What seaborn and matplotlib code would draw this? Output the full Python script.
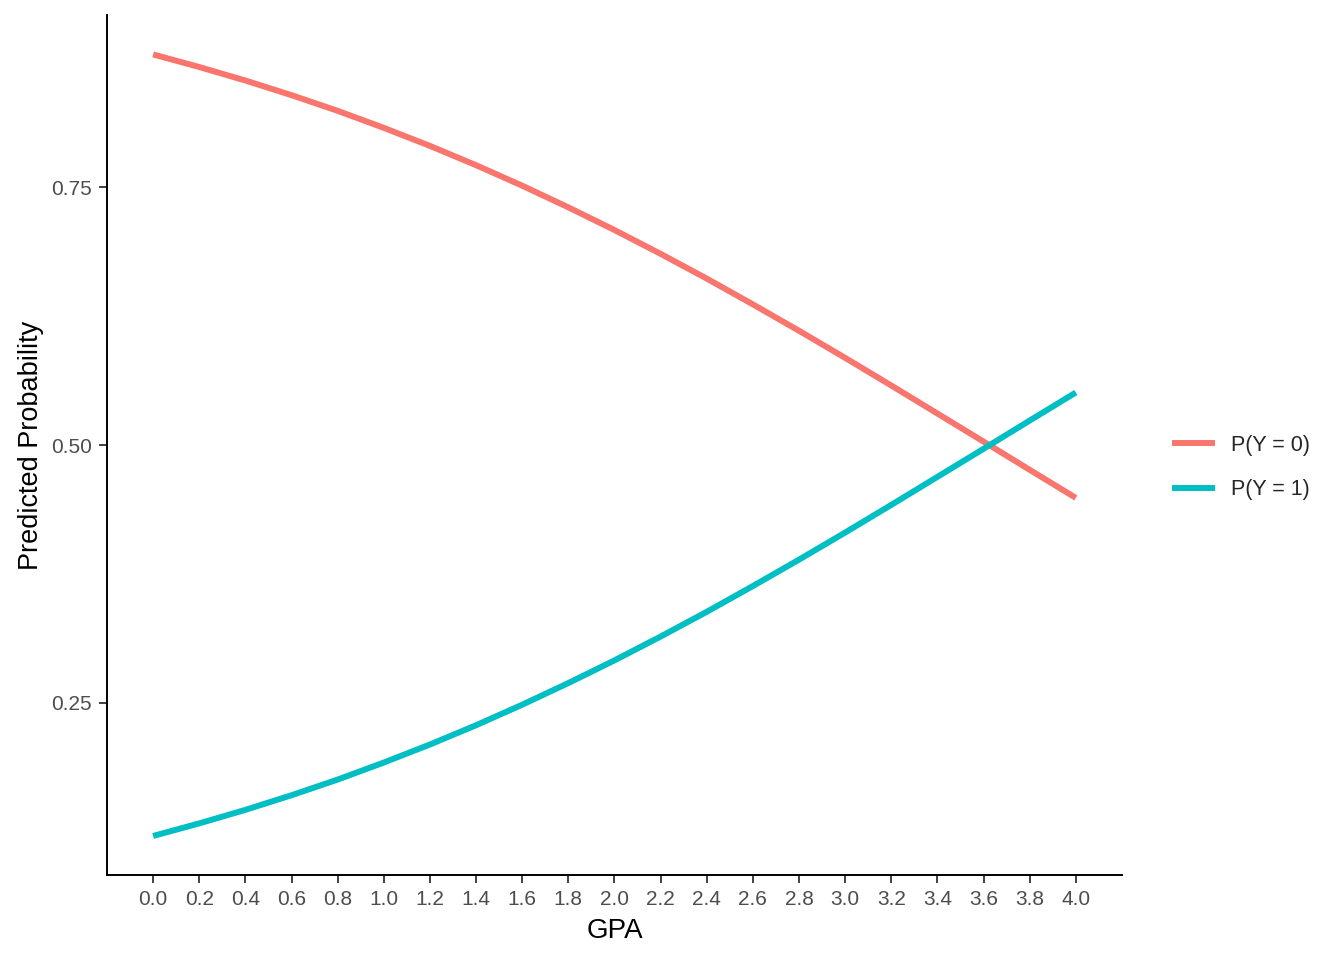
import matplotlib
matplotlib.use("Agg")
import matplotlib.pyplot as plt
import numpy as np
import pandas as pd
import seaborn as sns

# values
gpa = [0.0, 0.2, 0.4, 0.6, 0.8, 1.0, 1.2, 1.4, 1.6, 1.8, 2.0,
       2.2, 2.4, 2.6, 2.8, 3.0, 3.2, 3.4, 3.6, 3.8, 4.0]
p_y1 = [0.1210, 0.1332, 0.1463, 0.1605, 0.1757, 0.1922, 0.2097, 0.2284,
        0.2483, 0.2693, 0.2913, 0.3144, 0.3384, 0.3634, 0.3890, 0.4153,
        0.4421, 0.4693, 0.4965, 0.5239, 0.5511]
p_y0 = [0.8790, 0.8668, 0.8537, 0.8395, 0.8243, 0.8078, 0.7903, 0.7716,
        0.7517, 0.7307, 0.7087, 0.6856, 0.6616, 0.6366, 0.6110, 0.5847,
        0.5579, 0.5307, 0.5035, 0.4761, 0.4489]
labels = ["P(Y = 0)", "P(Y = 1)"]
colors = ["#F8766D", "#00BFC4"]

df = pd.concat([
    pd.DataFrame({"GPA": gpa, "prob": p_y0, "series": labels[0]}),
    pd.DataFrame({"GPA": gpa, "prob": p_y1, "series": labels[1]}),
])

sns.set_style("white")
plt.rcParams["font.family"] = ["Liberation Sans", "DejaVu Sans"]
plt.rcParams["lines.solid_capstyle"] = "butt"

fig = plt.figure(figsize=(13.44, 9.6), dpi=100)
ax = fig.add_axes([0.0796, 0.0885, 0.7552, 0.8955])

sns.lineplot(data=df, x="GPA", y="prob", hue="series", palette=colors,
             linewidth=4.3, ax=ax, legend=True)
for ln in ax.lines:
    ln.set_solid_capstyle("butt")

ax.set_xlim(-0.2, 4.2)
ax.set_ylim(0.0831, 0.9169)
ax.set_xticks(gpa)
ax.set_xticklabels([f"{v:.1f}" for v in gpa])
ax.set_yticks([0.25, 0.50, 0.75])
ax.set_yticklabels(["0.25", "0.50", "0.75"])
ax.tick_params(axis="both", colors="#333333", labelcolor="#4D4D4D",
               labelsize=15, length=6, width=1.3, direction="out",
               bottom=True, left=True, pad=5)
for s in ["top", "right"]:
    ax.spines[s].set_visible(False)
for s in ["left", "bottom"]:
    ax.spines[s].set_color("black")
    ax.spines[s].set_linewidth(1.4)
ax.set_xlabel("GPA", fontsize=20, labelpad=6, color="black")
ax.set_ylabel("Predicted Probability", fontsize=19.5, labelpad=5, color="black")

h, l = ax.get_legend_handles_labels()
for hd in h:
    hd.set_solid_capstyle("butt")
ax.legend(h, l, loc="center left", bbox_to_anchor=(0.8605, 0.513),
          bbox_transform=fig.transFigure, frameon=False, fontsize=15.5,
          handlelength=2.0, handletextpad=0.75, labelspacing=1.1,
          borderpad=0.2)

fig.savefig("out.png", dpi=100)
